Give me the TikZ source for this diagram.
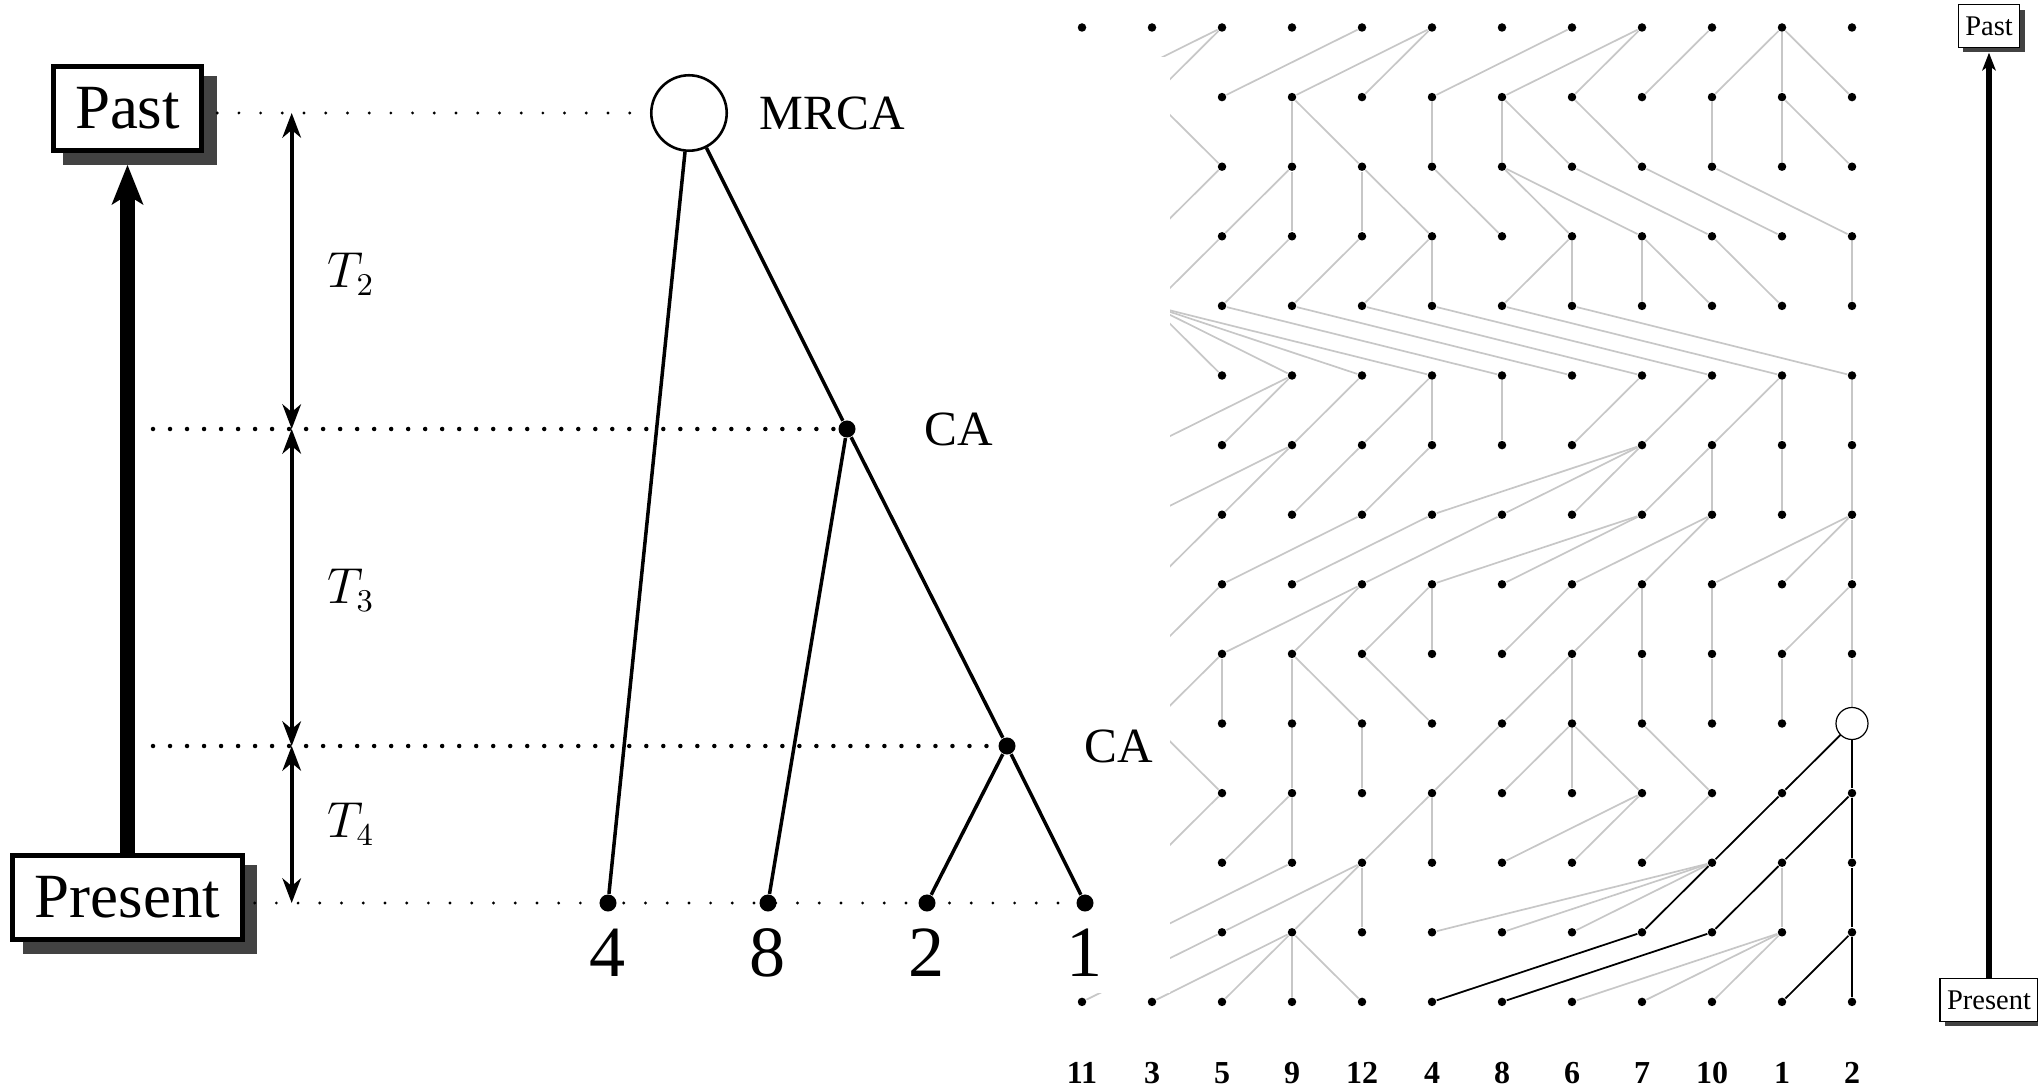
\documentclass[tikz,border=0pt]{standalone}
\usepackage{fontspec}
\setmainfont{Liberation Serif}
\usepackage{tikz}
\usetikzlibrary{arrows.meta, positioning, shadows}
\definecolor{wfgray}{gray}{0.78}
\definecolor{shadowgray}{gray}{0.26}
\tikzset{
  timebox/.style={
    draw, fill=white, line width=0.05cm,   % heavy frame
    inner xsep=0.22cm, minimum height=0.837cm,
    font=\fontsize{17.9}{20}\selectfont,
    drop shadow={shadow xshift=0.125cm, shadow yshift=-0.125cm,
                 fill=shadowgray, draw=shadowgray, opacity=1}
  },
  smalltimebox/.style={
    draw, fill=white, line width=0.012cm,
    inner xsep=0.07cm, minimum height=0.37cm,
    font=\fontsize{8.1}{9}\selectfont,
    drop shadow={shadow xshift=0.05cm, shadow yshift=-0.05cm,
                 fill=shadowgray, opacity=1}
  }
}
\tikzset{
  time arrow/.style={
    >={Stealth[length=0.4cm, width=0.32cm, inset=0.1cm, line width=0pt]},
    ->, line width=0.14cm
  },
  small time arrow/.style={
    >={Stealth[length=0.18cm, width=0.14cm, inset=0.05cm, line width=0pt]},
    ->, line width=0.055cm
  },
  tarrow/.style={
    >={Stealth[length=0.25cm, width=0.19cm, inset=0.08cm, line width=0pt]},
    <->, line width=0.036cm
  },
  finedots/.style={dash pattern=on 0pt off 0.217cm, line cap=round, line width=0.032cm},
  heavydots/.style={dash pattern=on 0pt off 0.17cm, line cap=round, line width=0.045cm}
}
\tikzset{
  treeline/.style={line width=0.035cm},
  treedot/.style={circle, fill, inner sep=0pt, minimum size=0.17cm},
  mrcacircle/.style={circle, draw, line width=0.026cm, minimum size=0.754cm, inner sep=0pt},
  calabel/.style={inner sep=0pt, font=\fontsize{14}{16}\selectfont},
  leaflabel/.style={inner sep=0pt, font=\fontsize{20.5}{22}\selectfont},
  tlabel/.style={inner sep=0pt, font=\fontsize{13.5}{16}\selectfont},
  % Wright-Fisher grid
  gdot/.style={circle, fill, inner sep=0pt, minimum size=0.085cm},
  wfline/.style={draw=wfgray, line width=0.017cm},
  sampleline/.style={draw=black, line width=0.017cm},
  wfroot/.style={circle, draw, fill=white, line width=0.012cm, minimum size=0.32cm, inner sep=0pt},
  collabel/.style={inner sep=0pt, font=\fontsize{9.1}{11}\selectfont\bfseries}
}

\begin{document}
\begin{tikzpicture}[x=0.01cm, y=-0.01cm]
    \useasboundingbox (0,0) rectangle (2038,1088);

    % Grid of individuals, one row per generation
    \def\gx{70}
    \def\gy{69.6}
    \foreach \r in {1,...,15} {
        \foreach \c in {1,...,12} {
            \node[gdot] (g-\r-\c) at ({1082+\gx*(\c-1)}, {27.5+\gy*(\r-1)}) {};
        }
    }
    % parent of each individual in the generation above
    \foreach \r/\plist in {
        2/{3,3,5,6,6,8,9,9,10,11,11,11},
        3/{1,2,2,4,4,6,7,7,8,10,11,11},
        4/{1,3,4,4,5,5,6,7,7,8,9,10},
        5/{1,3,4,5,6,6,8,8,9,9,10,12},
        6/{1,1,2,2,2,2,3,4,5,6,7,8},
        7/{1,4,4,5,6,6,7,9,10,11,11,12},
        8/{1,4,4,5,6,9,9,9,10,10,11,12},
        9/{1,3,5,6,7,9,9,10,10,12,12,12},
        10/{1,3,5,5,6,6,8,9,9,10,12,12},
        11/{1,3,3,4,4,5,8,8,9,10,11,12},
        12/{1,2,2,4,5,7,8,8,8,9,12,12},
        13/{1,3,4,4,6,6,9,9,10,11,12,12},
        14/{1,4,5,5,5,10,10,10,10,11,11,12},
        15/{3,4,4,4,4,9,10,11,11,11,12,12}} {
        \pgfmathtruncatemacro{\rup}{\r-1}
        \foreach \p [count=\c] in \plist {
            \draw[wfline] (g-\r-\c) -- (g-\rup-\p);
        }
    }
    % Genealogy of the sample
    \foreach \a/\b in {15-6/14-9, 14-9/13-10, 13-10/12-11, 12-11/11-12,
                       15-7/14-10, 14-10/13-11, 13-11/12-12, 12-12/11-12,
                       15-11/14-12, 14-12/13-12, 13-12/12-12, 15-12/14-12} {
        \draw[sampleline] (g-\a) -- (g-\b);
    }
    \node[wfroot] (wfmrca) at (g-11-12) {};

    % Labels of the present generation
    \foreach \lab [count=\c] in {11,3,5,9,12,4,8,6,7,10,1,2} {
        \node[collabel, below=0.55cm of g-15-\c] (lab-\c) {\lab};
    }

    % Left panel covers the first columns
    \fill[white] (0,56.7) rectangle (1170,993);

    % Past / Present boxes and time arrow
    \node[timebox] (past) at (127.5,108.3) {Past};
    \node[timebox] (present) at (127.5,897.3) {Present};
    \draw[time arrow] (present.north) -- ([yshift=-0.123cm]past.south);

    % Coalescent tree
    \node[mrcacircle] (mrca) at (689,113) {};
    \node[treedot] (ca1) at (847,429) {};
    \node[treedot] (ca2) at (1007,746) {};
    \node[treedot] (leaf4) at (608,903) {};
    \node[treedot] (leaf8) at (768,903) {};
    \node[treedot] (leaf2) at (927,903) {};
    \node[treedot] (leaf1) at (1085,903) {};
    \draw[treeline] (mrca) -- (leaf4);
    \draw[treeline] (mrca) -- (ca1);
    \draw[treeline] (ca1) -- (leaf8);
    \draw[treeline] (ca1) -- (ca2);
    \draw[treeline] (ca2) -- (leaf2);
    \draw[treeline] (ca2) -- (leaf1);
    \node[calabel, right=0.31cm of mrca] (mrcalab) {MRCA};
    \node[calabel, right=0.68cm of ca1] (ca1lab) {CA};
    \node[calabel, right=0.68cm of ca2] (ca2lab) {CA};
    \foreach \l in {4,8,2,1} {
        \node[leaflabel, below=0.16cm of leaf\l] (leaflab\l) {\l};
    }

    % Dotted levels
    \coordinate (pastend) at ([xshift=0.127cm]past.east);
    \coordinate (presentend) at ([xshift=0.1cm]present.east);
    \coordinate (arrowside) at ([xshift=0.255cm]present.north);
    \draw[finedots] (pastend |- mrca) -- (mrca);
    \draw[heavydots] (arrowside |- ca1) -- (ca1);
    \draw[heavydots] (arrowside |- ca2) -- (ca2);
    \draw[finedots] (presentend |- leaf1) -- (leaf1);

    % Coalescence times
    \coordinate (tx) at (291.7,0);
    \draw[tarrow] (tx |- mrca) -- (tx |- ca1);
    \draw[tarrow] (tx |- ca1) -- (tx |- ca2);
    \draw[tarrow] (tx |- ca2) -- (tx |- leaf1);
    \node[tlabel] (t2) at (351,274) {$T_2$};
    \node[tlabel] (t3) at (351,590) {$T_3$};
    \node[tlabel] (t4) at (351,824) {$T_4$};

    % Small time axis on the right
    \node[smalltimebox] (past2) at (1989,26) {Past};
    \node[smalltimebox] (present2) at (1989,1000) {Present};
    \draw[small time arrow] (present2.north) -- ([yshift=-0.05cm]past2.south);
\end{tikzpicture}
\end{document}
